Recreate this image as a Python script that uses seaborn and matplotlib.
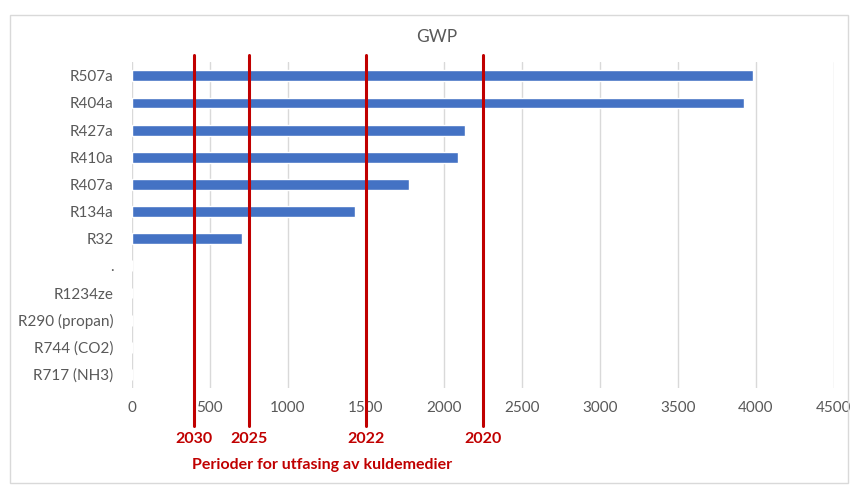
import matplotlib
matplotlib.use("Agg")
import matplotlib.pyplot as plt
import seaborn as sns
import pandas as pd
from matplotlib.patches import Rectangle

# GWP values
refrigerants = ["R507a", "R404a", "R427a", "R410a", "R407a", "R134a", "R32",
                ".", "R1234ze", "R290 (propan)", "R744 (CO2)", "R717 (NH3)"]
gwp = [3985, 3922, 2138, 2088, 1774, 1430, 705, 0, 0, 0, 0, 0]

# phase-out limits
phase_years = ["2030", "2025", "2022", "2020"]
phase_limits = [400, 750, 1500, 2250]

df = pd.DataFrame({"refrigerant": refrigerants, "gwp": gwp})

sns.set_style("white")
plt.rcParams["font.family"] = ["Lato", "DejaVu Sans"]

fig = plt.figure(figsize=(8.5, 4.9), dpi=100)
ax = fig.add_axes([0.155, 0.208, 0.826, 0.665])

sns.barplot(data=df, x="gwp", y="refrigerant", orient="h", color="#4472C4",
            width=0.4, saturation=1, ax=ax)

ax.set_xlim(0, 4500)
ax.set_xticks(range(0, 4501, 500))
ax.grid(axis="x", color="#d9d9d9", linewidth=1)
ax.set_axisbelow(True)
for s in ax.spines.values():
    s.set_visible(False)
ax.tick_params(axis="both", length=0, labelsize=11, labelcolor="#595959")
ax.tick_params(axis="y", pad=13)
ax.tick_params(axis="x", pad=9)
ax.set_xlabel("")
ax.set_ylabel("")

fig.text(0.514, 0.924, "GWP", ha="center", va="center", fontsize=12.5,
         color="#595959")

red = "#C00000"
trans = ax.get_xaxis_transform()
for yr, lim in zip(phase_years, phase_limits):
    ax.axvline(lim, ymin=-0.115, ymax=1.022, color=red, linewidth=2.2,
               clip_on=False, zorder=5)
    ax.text(lim, -0.155, yr, transform=trans, ha="center", va="center",
            color=red, fontsize=11.5, fontweight="bold")

fig.text(0.379, 0.052, "Perioder for utfasing av kuldemedier", ha="center",
         va="center", color=red, fontsize=11.5, fontweight="bold")

fig.patches.append(Rectangle((0.012, 0.014), 0.986, 0.955, transform=fig.transFigure,
                             fill=False, edgecolor="#d9d9d9", linewidth=1))

fig.savefig("out.png", dpi=100)
